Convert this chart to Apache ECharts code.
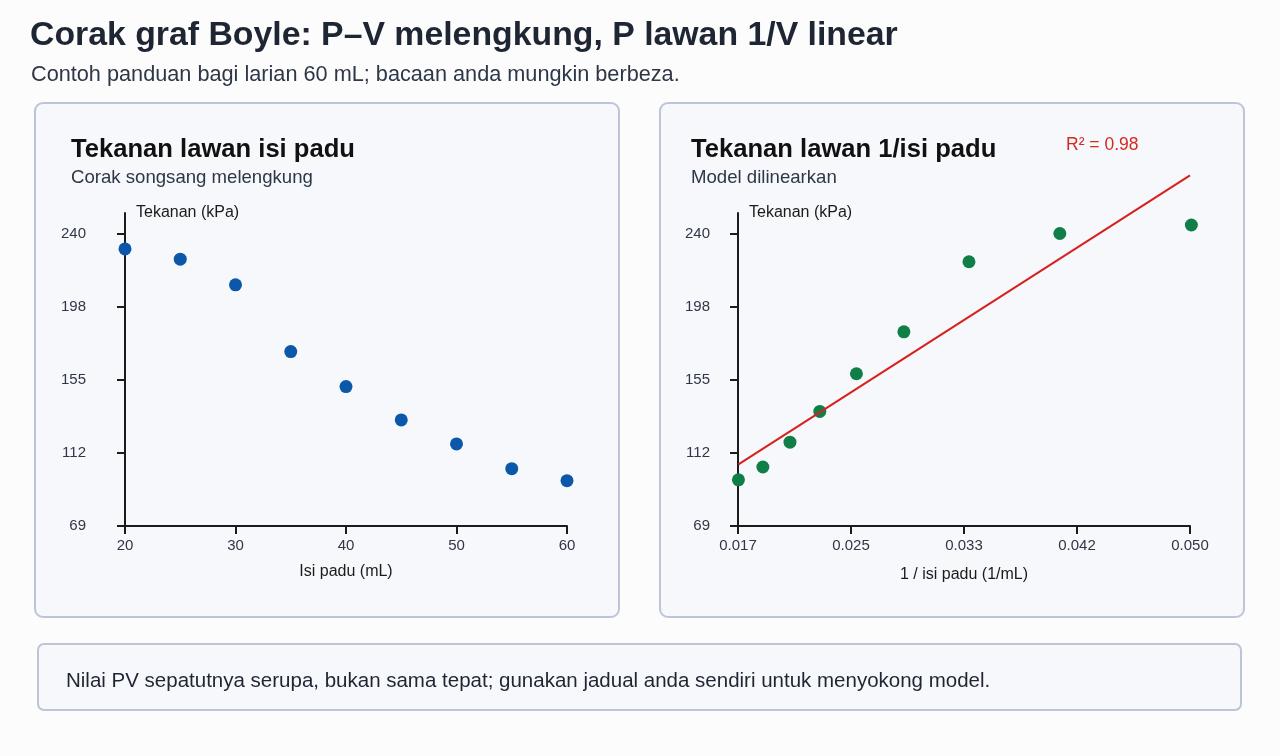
<!DOCTYPE html>
<html>
<head>
<meta charset="utf-8">
<script src="https://cdn.jsdelivr.net/npm/echarts@6/dist/echarts.min.js"></script>
<style>
  html, body { margin: 0; padding: 0; background: #fcfcfd; }
  #main { width: 1280px; height: 756px; }
</style>
</head>
<body>
<div id="main"></div>
<script>
// readings
const volumes = [20, 25, 30, 35, 40, 45, 50, 55, 60];
const pressureVsVolume = [231, 225, 210, 171, 150.5, 131, 117, 102.5, 95.5];
const inverseVolume = [0.0167, 0.0185, 0.0205, 0.0227, 0.0254, 0.0289, 0.0337, 0.0404, 0.0501];
const pressureVsInverse = [96, 103.5, 118, 136, 158, 182.5, 223.5, 240, 245];
const fitLine = [[0.0167, 105], [0.05, 274]];

const volumeTicks = [20, 30, 40, 50, 60];
const pressureTicks = [69, 111.75, 154.5, 197.25, 240];
const pressureTickLabels = ['69', '112', '155', '198', '240'];
const inverseTicks = [0.016667, 0.025, 0.033333, 0.041667, 0.05];
const inverseTickLabels = ['0.017', '0.025', '0.033', '0.042', '0.050'];

const FONT = '"Liberation Sans", Arial, sans-serif';
const axisColor = '#1b1b1b';

function labelFor(ticks, labels) {
  return (value) => {
    const i = ticks.findIndex((t) => Math.abs(t - value) < 1e-6);
    return i >= 0 ? labels[i] : '';
  };
}

function axisBase() {
  return {
    axisLine: { show: true, onZero: false, lineStyle: { color: axisColor, width: 2 } },
    axisTick: { show: true, length: 8, lineStyle: { color: axisColor, width: 2 } },
    splitLine: { show: false },
    axisLabel: { color: '#2f3645', fontSize: 15, fontFamily: FONT, margin: 12 }
  };
}

function xAxisFor(gridIndex, min, max, ticks, labels, name, gap) {
  const a = axisBase();
  return Object.assign(a, {
    type: 'value',
    gridIndex: gridIndex,
    min: min,
    max: max,
    name: name,
    nameLocation: 'middle',
    nameGap: gap,
    nameTextStyle: { color: axisColor, fontSize: 16, fontFamily: FONT },
    axisTick: Object.assign(a.axisTick, { customValues: ticks }),
    axisLabel: Object.assign(a.axisLabel, {
      customValues: ticks,
      formatter: labelFor(ticks, labels)
    })
  });
}

function yAxisFor(gridIndex, labelMargin) {
  const a = axisBase();
  return Object.assign(a, {
    type: 'value',
    gridIndex: gridIndex,
    min: 69,
    max: 252,
    name: 'Tekanan (kPa)',
    nameLocation: 'end',
    nameGap: 0,
    nameTextStyle: {
      color: axisColor, fontSize: 16, fontFamily: FONT,
      align: 'left', verticalAlign: 'middle', padding: [0, 0, 0, 11]
    },
    axisTick: Object.assign(a.axisTick, { customValues: pressureTicks }),
    axisLabel: Object.assign(a.axisLabel, {
      customValues: pressureTicks,
      margin: labelMargin,
      formatter: labelFor(pressureTicks, pressureTickLabels)
    })
  });
}

function panel(x, y, w, h, r) {
  return {
    type: 'rect',
    z: -10,
    shape: { x: x, y: y, width: w, height: h, r: r },
    style: { fill: '#f7f8fb', stroke: '#bcc5d8', lineWidth: 2 }
  };
}

function text(x, y, str, font, fill) {
  return {
    type: 'text',
    x: x,
    y: y,
    style: { text: str, font: font, fill: fill, verticalAlign: 'middle', align: 'left' }
  };
}

const option = {
  animation: false,
  backgroundColor: '#fcfcfd',
  graphic: [
    panel(35, 103, 584, 514, 8),
    panel(660, 103, 584, 514, 8),
    panel(38, 644, 1203, 66, 6),
    text(30, 36, 'Corak graf Boyle: P–V melengkung, P lawan 1/V linear', 'bold 33.8px ' + FONT, '#1f2633'),
    text(31, 75, 'Contoh panduan bagi larian 60 mL; bacaan anda mungkin berbeza.', '21.7px ' + FONT, '#2e3747'),
    text(71, 150, 'Tekanan lawan isi padu', 'bold 25.6px ' + FONT, '#111111'),
    text(71, 178, 'Corak songsang melengkung', '18.6px ' + FONT, '#2e3747'),
    text(691, 150, 'Tekanan lawan 1/isi padu', 'bold 25.6px ' + FONT, '#111111'),
    text(691, 178, 'Model dilinearkan', '18.6px ' + FONT, '#2e3747'),
    text(1066, 145, 'R² = 0.98', '17.5px ' + FONT, '#d42a20'),
    text(66, 681, 'Nilai PV sepatutnya serupa, bukan sama tepat; gunakan jadual anda sendiri untuk menyokong model.', '20.5px ' + FONT, '#1f2633')
  ],
  grid: [
    { left: 125, top: 213, width: 442, height: 313 },
    { left: 738, top: 213, width: 452, height: 313 }
  ],
  xAxis: [
    xAxisFor(0, 20, 60, volumeTicks, volumeTicks.map(String), 'Isi padu (mL)', 38),
    xAxisFor(1, inverseTicks[0], 0.05, inverseTicks, inverseTickLabels, '1 / isi padu (1/mL)', 41)
  ],
  yAxis: [yAxisFor(0, 39), yAxisFor(1, 28)],
  series: [
    {
      type: 'scatter',
      xAxisIndex: 0,
      yAxisIndex: 0,
      clip: false,
      symbolSize: 13,
      itemStyle: { color: '#0b58aa', opacity: 1 },
      data: volumes.map((v, i) => [v, pressureVsVolume[i]])
    },
    {
      type: 'line',
      xAxisIndex: 1,
      yAxisIndex: 1,
      clip: false,
      symbol: 'none',
      lineStyle: { color: '#d62020', width: 2 },
      data: fitLine
    },
    {
      type: 'scatter',
      xAxisIndex: 1,
      yAxisIndex: 1,
      clip: false,
      symbolSize: 13,
      itemStyle: { color: '#0f7f47', opacity: 1 },
      data: inverseVolume.map((v, i) => [v, pressureVsInverse[i]])
    }
  ]
};

const myChart = echarts.init(document.getElementById('main'));
myChart.setOption(option);
</script>
</body>
</html>
